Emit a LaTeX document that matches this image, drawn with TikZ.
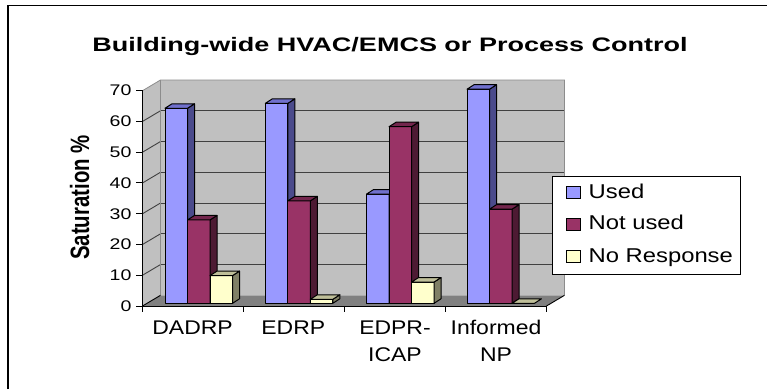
\documentclass[tikz,border=0pt]{standalone}
\usepackage{fontspec}
\setmainfont{Liberation Sans}
\usepackage{graphicx}
\definecolor{usedF}{HTML}{9999FF}
\definecolor{usedS}{HTML}{4B4B8C}
\definecolor{usedT}{HTML}{7070CC}
\definecolor{notF}{HTML}{993366}
\definecolor{notS}{HTML}{4D1A33}
\definecolor{notT}{HTML}{73264D}
\definecolor{noF}{HTML}{FFFFCC}
\definecolor{noS}{HTML}{808066}
\definecolor{noT}{HTML}{BFBF99}
\definecolor{wallc}{HTML}{C0C0C0}
\definecolor{floorc}{HTML}{808080}
\newcommand{\drawbarr}[5]{%
  \pgfmathsetmacro{\yt}{303.3-#2*3.076}%
  \pgfmathsetmacro{\xr}{#1+22.5}%
  \pgfmathsetmacro{\ytb}{\yt-4.5}%
  \filldraw[fill=#3,barline] (#1,303.3) rectangle (\xr,\yt);
  \filldraw[fill=#4,barline] (\xr,303.3) -- (\xr+7,298.8) -- (\xr+7,\ytb) -- (\xr,\yt) -- cycle;
  \filldraw[fill=#5,barline] (#1,\yt) -- (#1+7,\ytb) -- (\xr+7,\ytb) -- (\xr,\yt) -- cycle;
}
\tikzset{
  barline/.style={draw=black,line width=1pt,line join=round},
  ticklab/.style={anchor=east,inner sep=0pt,font=\fontsize{15.4}{16}\selectfont},
  catlab/.style={anchor=base,inner sep=0pt,font=\fontsize{19.8}{20}\selectfont},
  leglab/.style={anchor=base west,inner sep=0pt,font=\fontsize{20}{21}\selectfont},
  legsq/.style={draw=black,line width=1pt},
  grid/.style={draw=black!75,line width=0.9pt},
  walledge/.style={draw=black!45,line width=0.8pt}
}
\begin{document}
\begin{tikzpicture}[x=1pt,y=-1pt]
\useasboundingbox (0,0) rectangle (767,389);
% outer frame
\draw[line width=1.2pt] (8,389) -- (8,5.5) -- (767,5.5);
% title
\node[anchor=base,inner sep=0pt] (title) at (390,51.5)
  {\scalebox{1.385}[1]{\fontsize{19.5}{20}\selectfont\bfseries Building-wide HVAC/EMCS or Process Control}};
% back wall
\fill[wallc] (160.5,80) rectangle (564.5,295.3);
% left wall
\fill[wallc] (142.5,90.7) -- (160.5,80) -- (160.5,295.3) -- (142.5,306) -- cycle;
% floor
\fill[floorc] (142.5,306) -- (160.5,295.3) -- (564.5,295.3) -- (546.5,306) -- cycle;
% grid lines
\foreach \k in {1,...,6}{
  \pgfmathsetmacro{\yb}{295.3-\k*30.76}
  \pgfmathsetmacro{\yf}{306-\k*30.76}
  \draw[grid] (160.5,\yb) -- (564.5,\yb);
  \draw[grid] (142.5,\yf) -- (160.5,\yb);
}
\draw[walledge] (142.5,90.7) -- (160.5,80) -- (564.5,80) -- (564.5,295.3);
\draw[walledge] (160.5,80) -- (160.5,295.3);
\draw[line width=0.9pt] (142.5,306) -- (160.5,295.3);
\draw[line width=0.9pt] (546.5,306) -- (564.5,295.3);
% axes
\draw[line width=1pt] (142.5,90.7) -- (142.5,306) -- (546.5,306);
\foreach \k in {0,...,7}{
  \pgfmathsetmacro{\yf}{306-\k*30.76}
  \pgfmathtruncatemacro{\lab}{\k*10}
  \draw[line width=1pt] (136,\yf) -- (142.5,\yf);
  \node[ticklab] (t\k) at (131.7,\yf) {\scalebox{1.27}[1]{\lab}};
}
\foreach \k in {0,...,4}{
  \draw[line width=1pt] (142.5+\k*101,306) -- (142.5+\k*101,312);
}
% bars
\drawbarr{165}{63.4}{usedF}{usedS}{usedT}
\drawbarr{187.5}{27.1}{notF}{notS}{notT}
\drawbarr{210}{9.0}{noF}{noS}{noT}
\drawbarr{265.3}{65.0}{usedF}{usedS}{usedT}
\drawbarr{287.8}{33.3}{notF}{notS}{notT}
\drawbarr{310.3}{1.3}{noF}{noS}{noT}
\drawbarr{366.5}{35.5}{usedF}{usedS}{usedT}
\drawbarr{389}{57.4}{notF}{notS}{notT}
\drawbarr{411.5}{6.9}{noF}{noS}{noT}
\drawbarr{467}{69.6}{usedF}{usedS}{usedT}
\drawbarr{489.5}{30.6}{notF}{notS}{notT}
\filldraw[fill=noT,barline] (512,303.3) -- (519,298.8) -- (541.5,298.8) -- (534.5,303.3) -- cycle;
% y label
\node[inner sep=0pt] (ylab) at (79.7,197.5)
  {\scalebox{1.3}[1]{\rotatebox{90}{\fontsize{20.4}{22}\selectfont\bfseries Saturation \%}}};
% category labels
\node[catlab] (c1) at (192.6,334.3) {\scalebox{1.16}[1]{DADRP}};
\node[catlab] (c2) at (293.3,334.3) {\scalebox{1.16}[1]{EDRP}};
\node[catlab] (c3a) at (395,334.3) {\scalebox{1.16}[1]{EDPR-}};
\node[catlab] (c3b) at (395,361.3) {\scalebox{1.16}[1]{ICAP}};
\node[catlab] (c4a) at (496,334.3) {\scalebox{1.16}[1]{Informed}};
\node[catlab] (c4b) at (496,361.3) {\scalebox{1.16}[1]{NP}};
% legend
\filldraw[fill=white,draw=black,line width=1pt] (552,176.7) rectangle (740.5,274.3);
\filldraw[fill=usedF,legsq] (566.5,186.7) rectangle (580.5,198.3);
\filldraw[fill=notF,legsq] (566.5,218.3) rectangle (580.5,230);
\filldraw[fill=noF,legsq] (566.5,250.7) rectangle (580.5,262.5);
\node[leglab] (l1) at (588.5,198.3) {\scalebox{1.19}[1]{Used}};
\node[leglab] (l2) at (588.5,229.8) {\scalebox{1.19}[1]{Not used}};
\node[leglab] (l3) at (588.5,262.5) {\scalebox{1.19}[1]{No Response}};
\end{tikzpicture}
\end{document}
